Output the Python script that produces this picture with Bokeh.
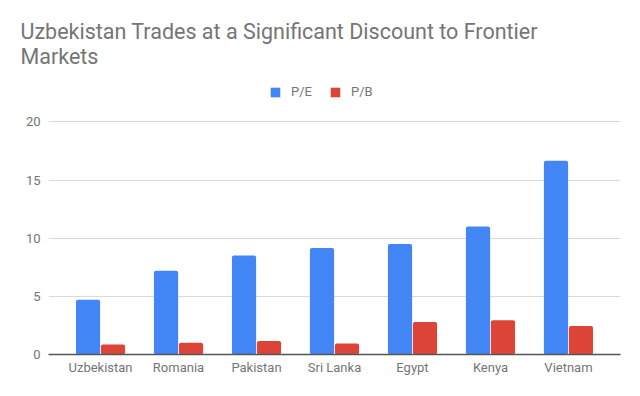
from bokeh.plotting import figure
from bokeh.models import (ColumnDataSource, FactorRange, Range1d, FixedTicker,
                          Legend, LegendItem)
from bokeh.transform import dodge
from bokeh.embed import file_html
from bokeh.resources import INLINE

countries = ["Uzbekistan", "Romania", "Pakistan", "Sri Lanka", "Egypt", "Kenya", "Vietnam"]
pe = [4.7, 7.2, 8.5, 9.15, 9.5, 11.0, 16.65]
pb = [0.85, 1.0, 1.15, 0.95, 2.8, 2.95, 2.45]
series_names = ["P/E", "P/B"]
y_ticks = [0, 5, 10, 15, 20]
title_text = "Uzbekistan Trades at a Significant Discount to Frontier\nMarkets"

BLUE = "#4285F4"
RED = "#DB4437"
GREY = "#757575"
FONT = "Roboto"

src = ColumnDataSource(data=dict(cat=countries, pe=pe, pb=pb))

p = figure(width=624, height=380, output_backend="svg", toolbar_location=None,
           x_range=FactorRange(*countries, range_padding=0.167, range_padding_units="absolute"),
           y_range=Range1d(0, 23.21),
           min_border_left=48, min_border_right=4, min_border_top=84, min_border_bottom=26)
p.outline_line_color = None

p.title.text = title_text
p.title.align = "left"
p.title.vertical_align = "top"
p.title.offset = -28
p.title.standoff = 27
p.title.text_font = FONT
p.title.text_font_style = "normal"
p.title.text_font_size = "21.5px"
p.title.text_color = GREY
p.title.text_line_height = 1.0

r1 = p.vbar(x=dodge("cat", -0.16, range=p.x_range), top="pe", width=0.31, source=src,
            fill_color=BLUE, line_color=None, border_radius=2)
r2 = p.vbar(x=dodge("cat", 0.16, range=p.x_range), top="pb", width=0.31, source=src,
            fill_color=RED, line_color=None, border_radius=2)

p.xgrid.grid_line_color = None
p.ygrid.grid_line_color = "#d9d9d9"
p.ygrid.ticker = FixedTicker(ticks=y_ticks)

p.yaxis.ticker = FixedTicker(ticks=y_ticks)
p.yaxis.axis_line_color = None
p.yaxis.major_tick_line_color = None
p.yaxis.minor_tick_line_color = None
p.yaxis.major_tick_out = 0
p.yaxis.major_label_standoff = 8
p.yaxis.major_label_text_font = FONT
p.yaxis.major_label_text_font_size = "13px"
p.yaxis.major_label_text_color = GREY

p.xaxis.axis_line_color = "#555555"
p.xaxis.axis_line_width = 1.5
p.xaxis.major_tick_line_color = None
p.xaxis.minor_tick_line_color = None
p.xaxis.major_tick_out = 0
p.xaxis.major_label_standoff = 5
p.xaxis.major_label_text_font = FONT
p.xaxis.major_label_text_font_size = "13px"
p.xaxis.major_label_text_color = GREY

legend = Legend(items=[LegendItem(label=series_names[0], renderers=[r1]),
                       LegendItem(label=series_names[1], renderers=[r2])],
                orientation="horizontal", location=(221, 255),
                glyph_width=12, glyph_height=12, label_height=12, label_standoff=10,
                spacing=17, padding=0, margin=0, border_line_color=None,
                background_fill_alpha=0, label_text_font=FONT,
                label_text_font_size="13px", label_text_color=GREY)
p.add_layout(legend, "center")

open("out.html", "w").write(file_html(p, INLINE))
